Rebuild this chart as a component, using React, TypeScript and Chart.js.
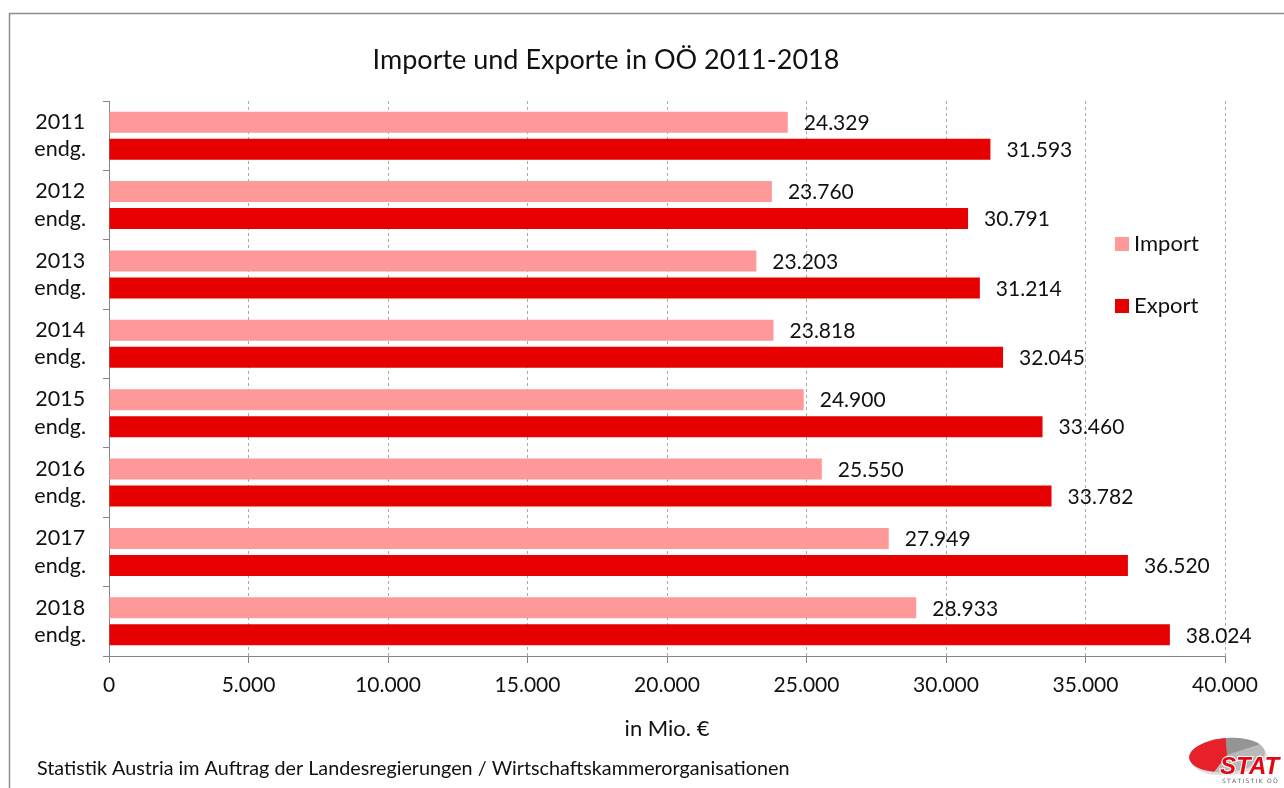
import React, { useEffect, useRef } from "react";
import { Chart, registerables } from "chart.js";

Chart.register(...registerables);

// ---------- data ----------
const years = ["2011", "2012", "2013", "2014", "2015", "2016", "2017", "2018"];
const yearNote = "endg.";
const importValues = [24329, 23760, 23203, 23818, 24900, 25550, 27949, 28933];
const exportValues = [31593, 30791, 31214, 32045, 33460, 33782, 36520, 38024];
const seriesNames = ["Import", "Export"];
const seriesColors = ["#FF9999", "#E60000"];
const xMin = 0;
const xMax = 40000;
const xStep = 5000;
const chartTitle = "Importe und Exporte in OÖ 2011-2018";
const xAxisTitle = "in Mio. €";
const sourceNote =
  "Statistik Austria im Auftrag der Landesregierungen / Wirtschaftskammerorganisationen";
const logoText = "STAT";
const logoSubText = "STATISTIK OÖ";

const FONT = "Lato, 'Open Sans', sans-serif";
const AXIS_GRAY = "#868686";

function fmt(n: number): string {
  const s = String(Math.round(Math.abs(n)));
  const out = s.replace(/\B(?=(\d{3})+(?!\d))/g, ".");
  return n < 0 ? "-" + out : out;
}

const decorPlugin = {
  id: "decor",
  beforeDraw(chart: any) {
    const { ctx, width, height } = chart;
    ctx.save();
    ctx.fillStyle = "#ffffff";
    ctx.fillRect(0, 0, width, height);
    ctx.restore();
  },
  afterDatasetsDraw(chart: any) {
    const ctx = chart.ctx;
    ctx.save();
    ctx.font = `21px ${FONT}`;
    ctx.fillStyle = "#111";
    ctx.textBaseline = "middle";
    ctx.textAlign = "left";
    chart.data.datasets.forEach((ds: any, di: number) => {
      const meta = chart.getDatasetMeta(di);
      meta.data.forEach((bar: any, i: number) => {
        ctx.fillText(fmt(ds.data[i]), bar.x + 16, bar.y + 1);
      });
    });
    ctx.restore();
  },
  afterDraw(chart: any) {
    const ctx = chart.ctx;
    ctx.save();

    // frame
    ctx.strokeStyle = "#8C8C8C";
    ctx.lineWidth = 1.5;
    ctx.beginPath();
    ctx.moveTo(9.5, 788);
    ctx.lineTo(9.5, 13.5);
    ctx.lineTo(1284, 13.5);
    ctx.stroke();

    // title
    ctx.fillStyle = "#111";
    ctx.textAlign = "center";
    ctx.textBaseline = "middle";
    ctx.font = `27px ${FONT}`;
    ctx.fillText(chartTitle, 606, 60);

    // source
    ctx.textAlign = "left";
    ctx.font = `19.75px ${FONT}`;
    ctx.fillText(sourceNote, 37, 769);

    // legend
    const legendY = [244, 306];
    ctx.font = `22px ${FONT}`;
    seriesNames.forEach((name, i) => {
      ctx.fillStyle = seriesColors[i];
      ctx.fillRect(1115, legendY[i] - 7, 14, 14);
      ctx.fillStyle = "#111";
      ctx.fillText(name, 1134, legendY[i]);
    });

    // logo
    const cx = 1227, cy = 755, rx = 38, ry = 17, rot = -0.08;
    ctx.fillStyle = "#dcdcdc";
    ctx.beginPath();
    ctx.ellipse(cx + 2, cy + 3, rx, ry, rot, 0, Math.PI * 2);
    ctx.fill();
    ctx.fillStyle = "#b9b9b9";
    ctx.beginPath();
    ctx.ellipse(cx, cy, rx, ry, rot, 0, Math.PI * 2);
    ctx.fill();
    ctx.fillStyle = "#959595";
    ctx.beginPath();
    ctx.moveTo(cx, cy);
    ctx.ellipse(cx, cy, rx, ry, rot, -Math.PI / 2, -0.5);
    ctx.closePath();
    ctx.fill();
    ctx.fillStyle = "#E8202A";
    ctx.beginPath();
    ctx.moveTo(cx, cy);
    ctx.ellipse(cx, cy, rx, ry, rot, 1.95, Math.PI * 1.5);
    ctx.closePath();
    ctx.fill();
    ctx.font = `italic bold 24px 'Liberation Sans', Arial, sans-serif`;
    ctx.textBaseline = "alphabetic";
    ctx.lineWidth = 2;
    ctx.strokeStyle = "#ffffff";
    ctx.strokeText(logoText, 1220, 774);
    ctx.fillStyle = "#E30613";
    ctx.fillText(logoText, 1220, 774);
    ctx.font = `6px 'DejaVu Sans', sans-serif`;
    ctx.fillStyle = "#666";
    let lx = 1222;
    for (const ch of logoSubText) {
      ctx.fillText(ch, lx, 783);
      lx += ctx.measureText(ch).width + 1.3;
    }

    ctx.restore();
  },
};

export default function App() {
  const canvasRef = useRef<HTMLCanvasElement>(null);

  useEffect(() => {
    if (!canvasRef.current) return;
    const chart = new Chart(canvasRef.current, {
      type: "bar",
      data: {
        labels: years.map((y) => [y, yearNote]),
        datasets: [
          {
            label: seriesNames[0],
            data: importValues,
            backgroundColor: seriesColors[0],
            borderWidth: 0,
            categoryPercentage: 0.778,
            barPercentage: 0.778,
          },
          {
            label: seriesNames[1],
            data: exportValues,
            backgroundColor: seriesColors[1],
            borderWidth: 0,
            categoryPercentage: 0.778,
            barPercentage: 0.778,
          },
        ],
      },
      options: {
        indexAxis: "y",
        animation: false,
        responsive: false,
        devicePixelRatio: 1,
        layout: { padding: { top: 101, left: 0, right: 59, bottom: 32 } },
        plugins: {
          legend: { display: false },
          title: { display: false },
          tooltip: { enabled: false },
        },
        scales: {
          x: {
            type: "linear",
            position: "bottom",
            min: xMin,
            max: xMax,
            afterFit: (s: any) => {
              s.height = 100;
            },
            ticks: {
              stepSize: xStep,
              autoSkip: false,
              maxRotation: 0,
              padding: 10,
              color: "#111",
              font: { family: FONT, size: 21 },
              callback: (v: any) => fmt(Number(v)),
            },
            grid: {
              color: "#A8A8A8",
              lineWidth: 1,
              drawTicks: true,
              tickLength: 7,
              tickColor: AXIS_GRAY,
              tickBorderDash: [],
            },
            border: { display: true, color: AXIS_GRAY, width: 1, dash: [3, 3] },
            title: {
              display: true,
              text: xAxisTitle,
              color: "#111",
              font: { family: FONT, size: 22 },
              padding: { top: 0, bottom: 14 },
            },
          },
          y: {
            type: "category",
            position: "left",
            afterFit: (s: any) => {
              s.width = 109;
            },
            ticks: {
              crossAlign: "center",
              padding: 17,
              color: "#111",
              font: { family: FONT, size: 21.5, lineHeight: 1.27 },
              autoSkip: false,
            },
            grid: {
              display: true,
              offset: true,
              drawOnChartArea: false,
              drawTicks: true,
              tickLength: 6,
              color: AXIS_GRAY,
              tickColor: AXIS_GRAY,
            },
            border: { display: true, color: AXIS_GRAY, width: 1 },
          },
        },
      },
      plugins: [decorPlugin],
    } as any);
    return () => chart.destroy();
  }, []);

  return (
    <div style={{ position: "absolute", left: 0, top: 0, width: 1284, height: 788 }}>
      <canvas
        ref={canvasRef}
        width={1284}
        height={788}
        style={{ display: "block", width: 1284, height: 788 }}
      />
    </div>
  );
}
